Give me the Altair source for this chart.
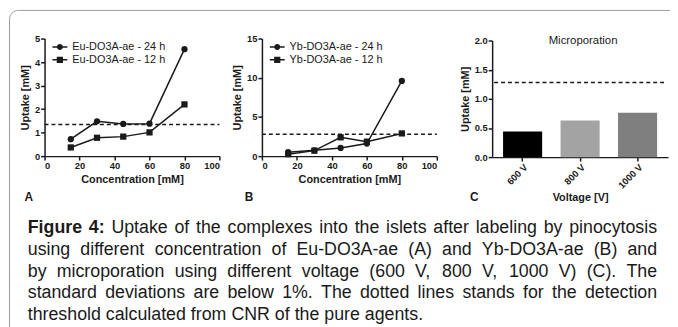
import altair as alt
import pandas as pd

# ---------------- data ----------------
conc = [15, 30, 45, 60, 80]
eu_24 = [0.72, 1.48, 1.37, 1.38, 4.55]
eu_12 = [0.37, 0.78, 0.83, 1.01, 2.20]
yb_24 = [0.50, 0.75, 1.05, 1.60, 9.60]
yb_12 = [0.25, 0.70, 2.40, 1.85, 2.90]
eu_labels = ["Eu-DO3A-ae - 24 h", "Eu-DO3A-ae - 12 h"]
yb_labels = ["Yb-DO3A-ae - 24 h", "Yb-DO3A-ae - 12 h"]
eu_threshold = 1.35
yb_threshold = 2.8

voltages = ["600 V", "800 V", "1000 V"]
micro_uptake = [0.44, 0.63, 0.76]
micro_colors = ["#000000", "#a3a3a3", "#7f7f7f"]
micro_threshold = 1.28

panel_letters = ["A", "B", "C"]
caption_bold = "Figure 4:"
caption_lines = [
    "Uptake of the complexes into the islets after labeling by pinocytosis",
    "using different concentration of Eu-DO3A-ae (A) and Yb-DO3A-ae (B) and",
    "by microporation using different voltage (600 V, 800 V, 1000 V) (C). The",
    "standard deviations are below 1%. The dotted lines stands for the detection",
    "threshold calculated from CNR of the pure agents.",
]

# ---------------- frames ----------------
eu_df = pd.DataFrame({
    "conc": conc * 2,
    "uptake": eu_24 + eu_12,
    "series": [eu_labels[0]] * 5 + [eu_labels[1]] * 5,
})
yb_df = pd.DataFrame({
    "conc": conc * 2,
    "uptake": yb_24 + yb_12,
    "series": [yb_labels[0]] * 5 + [yb_labels[1]] * 5,
})
mic_df = pd.DataFrame({"voltage": voltages, "uptake": micro_uptake})
one = pd.DataFrame({"a": [0]})

W, H = 662, 311
FONT = "Liberation Sans"
INK = "#1a1a1a"

# ---------------- caption layout (justified, Arial metrics) ----------------
_reg = {" ": 278, "%": 889, "(": 333, ")": 333, ",": 278, "-": 333, ".": 278, ":": 278}
for d in "0123456789":
    _reg[d] = 556
_reg.update({"A": 667, "B": 667, "C": 722, "D": 722, "E": 667, "F": 611, "N": 722,
             "O": 778, "R": 722, "T": 611, "U": 722, "V": 667, "Y": 667})
for ch, w in zip("abcdefghijklmnopqrstuvwxyz",
                 [556, 556, 500, 556, 556, 278, 556, 556, 222, 222, 500, 222, 833,
                  556, 556, 556, 556, 333, 500, 278, 556, 500, 722, 500, 500, 500]):
    _reg[ch] = w
_bold = {"F": 611, "i": 278, "g": 611, "u": 611, "r": 389, "e": 556, " ": 278,
         "4": 556, ":": 333}

CAP_FS = 18
CAP_X0, CAP_X1 = 28 - 8, 665 - 8
CAP_Y0, CAP_LH = 234 - 8, 22


def tw(s, bold=False):
    tab = _bold if bold else _reg
    return sum(tab.get(c, 556) for c in s) * CAP_FS / 1000.0


words = []
for i, line in enumerate(caption_lines):
    toks = [(w, False) for w in line.split(" ")]
    if i == 0:
        toks = [(w, True) for w in caption_bold.split(" ")] + toks
    widths = [tw(t, b) for t, b in toks]
    if i < len(caption_lines) - 1:
        gap = (CAP_X1 - CAP_X0 - sum(widths)) / (len(toks) - 1)
    else:
        gap = tw(" ")
    x = CAP_X0
    for (t, b), w in zip(toks, widths):
        words.append({"word": t, "px": x, "py": CAP_Y0 + i * CAP_LH, "bold": b})
        x += w + gap
words_df = pd.DataFrame(words)

axis_style = dict(
    grid=False, domainColor=INK, domainWidth=1.5, tickColor=INK, tickWidth=1.5,
    tickSize=4, labelFont=FONT, labelFontSize=9.5, labelFontWeight="bold",
    labelColor=INK, titleFont=FONT, titleFontSize=11, titleFontWeight="bold",
    titleColor=INK, labelPadding=1,
)

circle_line = ("M-1,-0.1H1V0.1H-1Z "
               "M0.4,0A0.4,0.4,0,1,1,-0.4,0A0.4,0.4,0,1,1,0.4,0Z")
square_line = ("M-1,-0.1H1V0.1H-1Z "
               "M-0.42,-0.42H0.42V0.42H-0.42Z")


def line_panel(df, labels, thr, ymax, yvals, xr, yr, legx, legy):
    xs = alt.Scale(domain=[0, 100], range=xr, nice=False)
    ys = alt.Scale(domain=[0, ymax], range=yr, nice=False)
    xaxis = alt.Axis(orient="bottom", offset=-(H - yr[0]), values=[0, 20, 40, 60, 80, 100],
                     title="Concentration [mM]", titlePadding=3, **axis_style)
    yaxis = alt.Axis(orient="left", offset=-xr[0], values=yvals, format="d",
                     title="Uptake [mM]", titlePadding=4, **axis_style)
    lines = alt.Chart(df).mark_line(color=INK, strokeWidth=1.5).encode(
        x=alt.X("conc:Q", scale=xs, axis=xaxis),
        y=alt.Y("uptake:Q", scale=ys, axis=yaxis),
        detail="series:N",
    )
    pts = alt.Chart(df).mark_point(filled=True, color=INK, opacity=1, size=40).encode(
        x=alt.X("conc:Q", scale=xs, axis=None),
        y=alt.Y("uptake:Q", scale=ys, axis=None),
        shape=alt.Shape("series:N", scale=alt.Scale(domain=labels, range=["circle", "square"]),
                        legend=None),
    )
    rule = alt.Chart(one).mark_rule(color=INK, strokeWidth=1.5, strokeDash=[4, 3]).encode(
        x=alt.X(datum=0, scale=xs, axis=None),
        x2=alt.X2(datum=100),
        y=alt.Y(datum=thr, scale=ys, axis=None),
    )
    leg = alt.Chart(df).mark_point(filled=True, color=INK).encode(
        shape=alt.Shape("series:N",
                        scale=alt.Scale(domain=labels, range=[circle_line, square_line]),
                        legend=alt.Legend(orient="none", legendX=legx, legendY=legy, title=None,
                                          padding=0, labelFont=FONT, labelFontSize=11,
                                          labelColor=INK, labelOffset=5, rowPadding=0,
                                          symbolSize=225, symbolFillColor=INK,
                                          symbolStrokeColor=INK, symbolStrokeWidth=0,
                                          symbolOpacity=1)),
    ).transform_filter("false")
    return [lines, pts, rule, leg]


layers = []

frame = alt.Chart(one).mark_rect(fillOpacity=0, stroke="#9a9a9a", strokeWidth=1,
                                 cornerRadius=9).encode(
    x=alt.value(1.5), x2=alt.value(760), y=alt.value(0.5), y2=alt.value(420))
layers.append(frame)

layers += line_panel(eu_df, eu_labels, eu_threshold, 5, [0, 1, 2, 3, 4, 5],
                     [37, 214], [148, 29], 45, 30)
layers += line_panel(yb_df, yb_labels, yb_threshold, 15, [0, 5, 10, 15],
                     [257, 434], [148, 29], 265, 30)

# panel C
xc = alt.Scale(domain=voltages, range=[490, 668], paddingInner=0.32, paddingOuter=0.19)
yc = alt.Scale(domain=[0, 2], range=[149, 31], nice=False)
bars = alt.Chart(mic_df).mark_bar().encode(
    x=alt.X("voltage:N", scale=xc, sort=voltages,
            axis=alt.Axis(orient="bottom", offset=-(H - 149), labelAngle=-45,
                          title="Voltage [V]", titlePadding=2, **axis_style)),
    y=alt.Y("uptake:Q", scale=yc,
            axis=alt.Axis(orient="left", offset=-490, values=[0, 0.5, 1.0, 1.5, 2.0],
                          format=".1f", title="Uptake [mM]", titlePadding=4, **axis_style)),
    color=alt.Color("voltage:N", scale=alt.Scale(domain=voltages, range=micro_colors),
                    legend=None),
)
rule_c = alt.Chart(one).mark_rule(color=INK, strokeWidth=1.5, strokeDash=[4, 3]).encode(
    x=alt.value(492), x2=alt.value(667),
    y=alt.Y(datum=micro_threshold, scale=yc, axis=None),
)
title_c = alt.Chart(one).mark_text(font=FONT, fontSize=11.5, color=INK).encode(
    x=alt.value(582), y=alt.value(32), text=alt.value("Microporation"))
layers += [bars, rule_c, title_c]

for letter, lx in zip(panel_letters, [29, 252, 480]):
    layers.append(alt.Chart(one).mark_text(font=FONT, fontSize=12, fontWeight="bold",
                                           color=INK, align="center").encode(
        x=alt.value(lx - 8), y=alt.value(189), text=alt.value(letter)))

for is_bold in (True, False):
    layers.append(
        alt.Chart(words_df).transform_filter(
            "datum.bold" if is_bold else "!datum.bold"
        ).mark_text(font=FONT, fontSize=CAP_FS, fontWeight="bold" if is_bold else "normal",
                    color=INK, align="left", baseline="alphabetic").encode(
            x=alt.X("px:Q", scale=None, axis=None),
            y=alt.Y("py:Q", scale=None, axis=None),
            text="word:N",
        )
    )

chart = alt.layer(*layers).properties(
    width=W, height=H, padding={"left": 0, "top": 0, "right": 8, "bottom": 8},
    autosize=alt.AutoSizeParams(type="none"),
).resolve_scale(
    x="independent", y="independent", shape="independent", color="independent"
).resolve_axis(
    x="independent", y="independent"
).resolve_legend(
    shape="independent"
).configure_view(strokeOpacity=0)

chart.save("out.html", embed_options={"renderer": "svg", "actions": False})
